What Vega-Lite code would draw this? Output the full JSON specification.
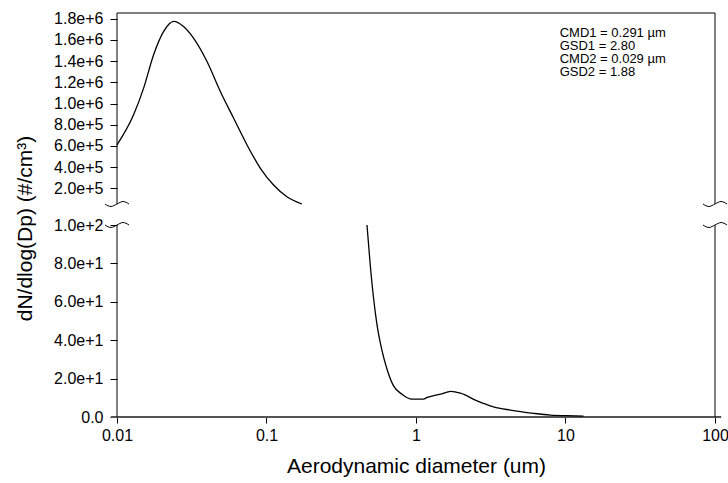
{
  "$schema": "https://vega.github.io/schema/vega-lite/v6.json",
  "width": 598,
  "height": 404,
  "autosize": "none",
  "padding": {"left": 117, "top": 13, "right": 13, "bottom": 66},
  "background": "white",
  "config": {
    "view": {"stroke": null},
    "font": "Liberation Sans",
    "axis": {"labelFont": "Liberation Sans", "titleFont": "Liberation Sans", "labelColor": "black", "titleColor": "black", "tickColor": "black", "grid": false, "titleFontWeight": "normal", "labelOverlap": false, "labelFlush": false, "labelBound": false}
  },
  "datasets": {
    "curve": [
      {"seg": "a", "d": 0.01, "n": 609000},
      {"seg": "a", "d": 0.01291, "n": 893000},
      {"seg": "a", "d": 0.01507, "n": 1145000},
      {"seg": "a", "d": 0.01758, "n": 1460000},
      {"seg": "a", "d": 0.02052, "n": 1680000},
      {"seg": "a", "d": 0.02393, "n": 1775000},
      {"seg": "a", "d": 0.02786, "n": 1727000},
      {"seg": "a", "d": 0.0325, "n": 1617000},
      {"seg": "a", "d": 0.04, "n": 1396000},
      {"seg": "a", "d": 0.0491, "n": 1113000},
      {"seg": "a", "d": 0.0603, "n": 861000},
      {"seg": "a", "d": 0.0741, "n": 609000},
      {"seg": "a", "d": 0.091, "n": 389000},
      {"seg": "a", "d": 0.1115, "n": 231000},
      {"seg": "a", "d": 0.137, "n": 120000},
      {"seg": "a", "d": 0.1725, "n": 52000},
      {"seg": "b", "d": 0.47, "n": 100},
      {"seg": "b", "d": 0.494, "n": 79.3},
      {"seg": "b", "d": 0.52, "n": 62},
      {"seg": "b", "d": 0.548, "n": 48.2},
      {"seg": "b", "d": 0.593, "n": 34.4},
      {"seg": "b", "d": 0.64, "n": 24.9},
      {"seg": "b", "d": 0.708, "n": 16.2},
      {"seg": "b", "d": 0.805, "n": 11.9},
      {"seg": "b", "d": 0.94, "n": 9.3},
      {"seg": "b", "d": 1.12, "n": 9.3},
      {"seg": "b", "d": 1.19, "n": 10.2},
      {"seg": "b", "d": 1.455, "n": 11.9},
      {"seg": "b", "d": 1.71, "n": 13.3},
      {"seg": "b", "d": 1.98, "n": 12.4},
      {"seg": "b", "d": 2.56, "n": 8.4},
      {"seg": "b", "d": 3.3, "n": 5.3},
      {"seg": "b", "d": 4.27, "n": 3.6},
      {"seg": "b", "d": 6.12, "n": 1.9},
      {"seg": "b", "d": 7.91, "n": 1.0},
      {"seg": "b", "d": 10.2, "n": 0.7},
      {"seg": "b", "d": 13.2, "n": 0.5}
    ],
    "frame": [
      {"x": 0.01, "x2": 0.01, "y": 0, "y2": 100},
      {"x": 0.01, "x2": 0.01, "y": 52000, "y2": 1854000},
      {"x": 100, "x2": 100, "y": 0, "y2": 100},
      {"x": 100, "x2": 100, "y": 52000, "y2": 1854000},
      {"x": 0.01, "x2": 100, "y": 1854000, "y2": 1854000}
    ],
    "breaks": [
      {"b": "L1", "x": 0.00831, "y": 52000},
      {"b": "L1", "x": 0.00912, "y": 45820},
      {"b": "L1", "x": 0.01, "y": 52000},
      {"b": "L1", "x": 0.01097, "y": 75587},
      {"b": "L1", "x": 0.01203, "y": 52000},
      {"b": "L2", "x": 0.00831, "y": 100},
      {"b": "L2", "x": 0.00912, "y": 98.7},
      {"b": "L2", "x": 0.01, "y": 100},
      {"b": "L2", "x": 0.01097, "y": 6278},
      {"b": "L2", "x": 0.01203, "y": 100},
      {"b": "R1", "x": 83.1, "y": 52000},
      {"b": "R1", "x": 91.2, "y": 45820},
      {"b": "R1", "x": 100, "y": 52000},
      {"b": "R1", "x": 109.7, "y": 75587},
      {"b": "R1", "x": 120.3, "y": 52000},
      {"b": "R2", "x": 83.1, "y": 100},
      {"b": "R2", "x": 91.2, "y": 98.7},
      {"b": "R2", "x": 100, "y": 100},
      {"b": "R2", "x": 109.7, "y": 6278},
      {"b": "R2", "x": 120.3, "y": 100}
    ],
    "notes": [
      {"x": 9.14, "y": 1665300, "t": "CMD1 = 0.291 µm"},
      {"x": 9.14, "y": 1542700, "t": "GSD1 = 2.80"},
      {"x": 9.14, "y": 1420000, "t": "CMD2 = 0.029 µm"},
      {"x": 9.14, "y": 1297400, "t": "GSD2 = 1.88"}
    ],
    "xaxis": [
      {"x": 0.0091, "x2": 110, "y": 0}
    ]
  },
  "layer": [
    {
      "data": {"name": "xaxis"},
      "mark": {"type": "rule", "stroke": "#555555", "strokeWidth": 2},
      "encoding": {
        "x": {"field": "x", "type": "quantitative", "scale": {"type": "log", "domain": [0.01, 100], "nice": false}, "axis": {"title": "Aerodynamic diameter (um)", "values": [0.01, 0.1, 1, 10, 100], "tickCount": 10, "labelExpr": "datum.value >= 1 ? format(datum.value, 'd') : format(datum.value, '')", "domain": false, "tickSize": 6, "labelFontSize": 16, "labelPadding": 4, "titleFontSize": 21, "titlePadding": 12}},
        "x2": {"field": "x2"},
        "y": {"field": "y", "type": "quantitative", "scale": {"type": "linear", "domain": [0, 100, 52000, 1854000], "range": [404, 212, 191, 0], "nice": false, "zero": false}, "axis": {"title": "dN/dlog(Dp) (#/cm³)", "values": [0, 20, 40, 60, 80, 100, 200000, 400000, 600000, 800000, 1000000, 1200000, 1400000, 1600000, 1800000], "tickCount": 30, "labelExpr": "datum.value == 0 ? '0.0' : format(datum.value, '.1e')", "domain": false, "tickSize": 7, "labelFontSize": 16, "labelPadding": 7, "titleFontSize": 21, "titleX": -92, "titleY": 215, "titleBaseline": "middle"}}
      }
    },
    {
      "data": {"name": "frame"},
      "mark": {"type": "rule", "stroke": "black", "strokeWidth": 1},
      "encoding": {
        "x": {"field": "x", "type": "quantitative"},
        "x2": {"field": "x2"},
        "y": {"field": "y", "type": "quantitative"},
        "y2": {"field": "y2"}
      }
    },
    {
      "data": {"name": "breaks"},
      "mark": {"type": "line", "stroke": "black", "strokeWidth": 1, "interpolate": "monotone"},
      "encoding": {
        "x": {"field": "x", "type": "quantitative"},
        "y": {"field": "y", "type": "quantitative"},
        "detail": {"field": "b"}
      }
    },
    {
      "data": {"name": "curve"},
      "mark": {"type": "line", "stroke": "black", "strokeWidth": 1.3, "interpolate": "monotone"},
      "encoding": {
        "x": {"field": "d", "type": "quantitative"},
        "y": {"field": "n", "type": "quantitative"},
        "detail": {"field": "seg"}
      }
    },
    {
      "data": {"name": "notes"},
      "mark": {"type": "text", "align": "left", "baseline": "middle", "fontSize": 13, "font": "Liberation Sans", "color": "black"},
      "encoding": {
        "x": {"field": "x", "type": "quantitative"},
        "y": {"field": "y", "type": "quantitative"},
        "text": {"field": "t"}
      }
    }
  ]
}
